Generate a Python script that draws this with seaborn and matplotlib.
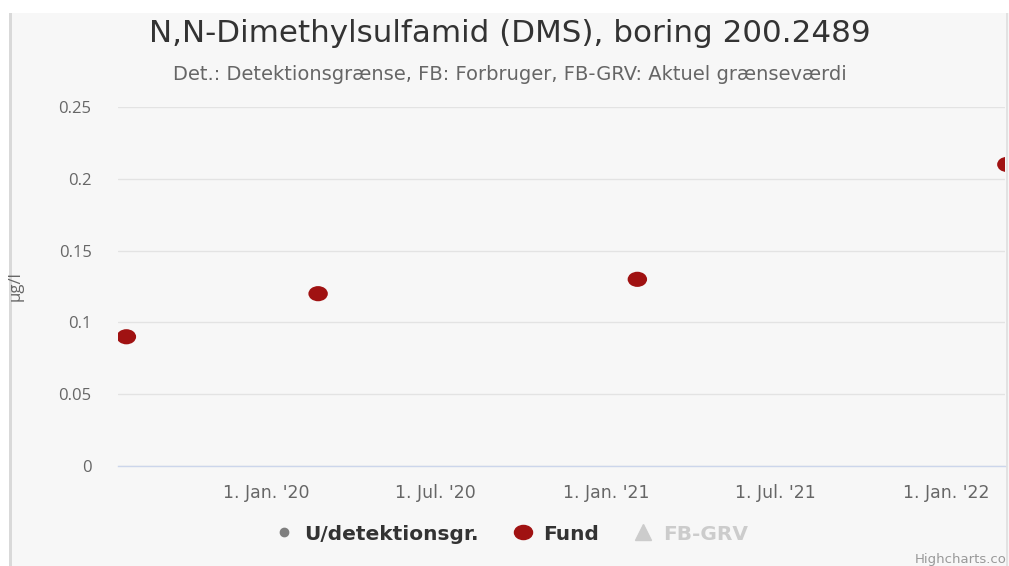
import matplotlib
matplotlib.use("Agg")
import matplotlib.pyplot as plt
from matplotlib.path import Path
from matplotlib.lines import Line2D
from matplotlib.patches import Rectangle
import seaborn as sns
import pandas as pd
import numpy as np

# ---- data ----
dates = ["2019-08-04", "2020-02-26", "2021-02-03", "2022-03-07"]
values = [0.09, 0.12, 0.13, 0.21]
series = ["Fund", "Fund", "Fund", "Fund"]
tick_dates = ["2020-01-01", "2020-07-01", "2021-01-01", "2021-07-01", "2022-01-01"]
tick_labels = ["1. Jan. '20", "1. Jul. '20", "1. Jan. '21", "1. Jul. '21", "1. Jan. '22"]
y_ticks = [0, 0.05, 0.1, 0.15, 0.2, 0.25]
y_tick_labels = ["0", "0.05", "0.1", "0.15", "0.2", "0.25"]
legend_labels = ["U/detektionsgr.", "Fund", "FB-GRV"]

title = "N,N-Dimethylsulfamid (DMS), boring 200.2489"
subtitle = "Det.: Detektionsgrænse, FB: Forbruger, FB-GRV: Aktuel grænseværdi"

df = pd.DataFrame({"dato": pd.to_datetime(dates), "vaerdi": values, "serie": series})

sns.set_style("white")
plt.rcParams["font.family"] = ["DejaVu Sans"]

W, H = 1009, 566
fig = plt.figure(figsize=(W / 100, H / 100), dpi=100, facecolor="white")

# background panel as in screenshot
bg = "#f7f7f7"
fig.patches.append(Rectangle((12 / W, 0), 1 - 12 / W, 1 - 13 / H, transform=fig.transFigure,
                             facecolor=bg, edgecolor="none", zorder=-10))
fig.patches.append(Rectangle((9 / W, 0), 3 / W, 1 - 13 / H, transform=fig.transFigure,
                             facecolor="#d9d9d9", edgecolor="none", zorder=-9))
fig.patches.append(Rectangle((1006 / W, 0), 1.5 / W, 1 - 13 / H, transform=fig.transFigure,
                             facecolor="#e2e2e2", edgecolor="none", zorder=-9))

left, right, top, bottom = 118, 1005, 107, 466
ax = fig.add_axes([left / W, (H - bottom) / H, (right - left) / W, (bottom - top) / H])
ax.set_facecolor(bg)

# elliptical marker (screenshot is slightly stretched)
circ = Path.unit_circle()
ell = Path(circ.vertices * np.array([1.0, 0.78]), circ.codes)

sns.scatterplot(data=df, x="dato", y="vaerdi", ax=ax, color="#a01212", marker=ell,
                s=14 ** 2, edgecolor="none", legend=False, zorder=5, clip_on=True)

ax.set_ylim(0, 0.25)
ax.set_xlim(pd.Timestamp("2019-07-26"), pd.Timestamp("2022-03-05"))
ax.set_yticks(y_ticks)
ax.set_yticklabels(y_tick_labels, fontfamily=["Open Sans", "DejaVu Sans"], fontsize=12,
                   color="#666666")
ax.set_xticks(pd.to_datetime(tick_dates))
ax.set_xticklabels(tick_labels, fontsize=12.5, color="#666666")
ax.grid(axis="y", color="#e3e3e3", linewidth=1)
ax.grid(axis="x", visible=False)
for s in ["top", "right", "left"]:
    ax.spines[s].set_visible(False)
ax.spines["bottom"].set_color("#ccd6eb")
ax.spines["bottom"].set_linewidth(1)
ax.tick_params(axis="x", length=10, width=1, color="#ccd6eb", pad=3)
ax.tick_params(axis="y", length=0, pad=19)
ax.set_xlabel("")
ax.set_ylabel("µg/l", fontfamily=["Open Sans", "DejaVu Sans"], fontsize=12, color="#666666",
              labelpad=0)
ax.yaxis.set_label_coords((24 - left) / (right - left), 0.5)

fig.text(510 / W, 1 - 33 / H, title, ha="center", va="center", fontsize=22.3, color="#333333")
fig.text(510 / W, 1 - 74 / H, subtitle, ha="center", va="center", fontsize=14, color="#666666")

handles = [
    Line2D([], [], linestyle="none", marker="o", markersize=6, color="#7f7f7f"),
    Line2D([], [], linestyle="none", marker=ell, markersize=13, color="#a01212"),
    Line2D([], [], linestyle="none", marker="^", markersize=12, color="#cccccc"),
]
leg = fig.legend(handles, legend_labels, loc="center", bbox_to_anchor=(510 / W, 1 - 534 / H),
                 ncol=3, frameon=False, prop={"weight": "bold", "size": 14.5},
                 handletextpad=0.4, columnspacing=1.6, handlelength=1.2)
txts = leg.get_texts()
txts[0].set_color("#333333")
txts[1].set_color("#333333")
txts[2].set_color("#cccccc")

fig.text(1007 / W, 1 - 560 / H, "Highcharts.co", ha="right", va="center", fontsize=9.5,
         color="#999999")

fig.savefig("out.png", dpi=100, facecolor="white")
